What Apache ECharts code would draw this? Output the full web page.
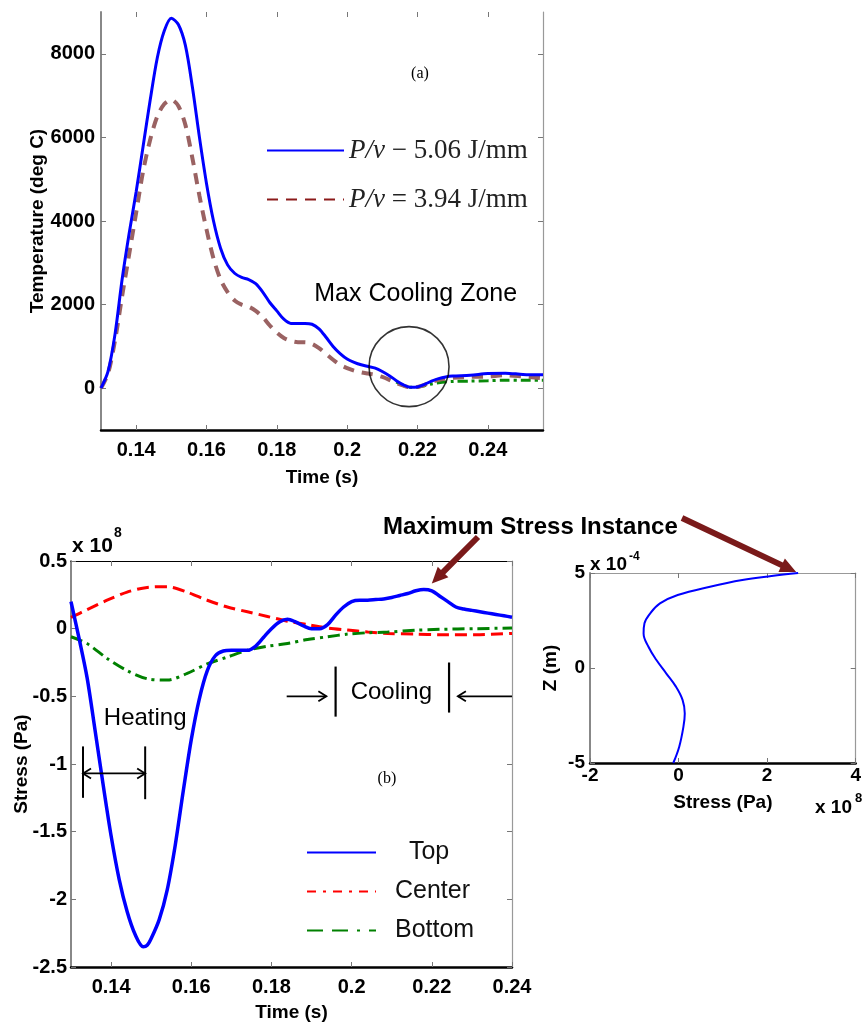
<!DOCTYPE html>
<html><head><meta charset="utf-8">
<script src="https://cdn.jsdelivr.net/npm/echarts@6/dist/echarts.min.js"></script>
<style>html,body{margin:0;padding:0;background:#fff;}#c{width:864px;height:1036px;}</style>
</head><body><div id="c"></div>
<script>
// ---------- DATA ----------
const tempTime = [0.130,0.132,0.134,0.136,0.138,0.140,0.142,0.144,0.146,0.148,0.150,0.152,0.154,0.156,0.158,0.160,0.162,0.164,0.166,0.168,0.170,0.172,0.174,0.176,0.178,0.180,0.182,0.184,0.186,0.188,0.190,0.192,0.194,0.196,0.198,0.200,0.202,0.204,0.206,0.208,0.210,0.212,0.214,0.216,0.218,0.220,0.222,0.224,0.226,0.228,0.230,0.235,0.240,0.245,0.250,0.2557];
const tempHigh = [0,400,1300,2600,3700,4700,5800,6900,7900,8550,8850,8700,8200,7200,6000,4900,4000,3350,2950,2750,2650,2600,2500,2300,2050,1850,1650,1550,1550,1550,1530,1420,1220,1000,830,700,620,560,520,480,400,300,180,80,20,30,90,170,230,270,290,310,350,360,330,320];
const tempLow = [0,350,1150,2200,3200,4200,5200,5950,6500,6800,6900,6750,6300,5500,4600,3800,3100,2600,2300,2100,2000,1950,1850,1700,1500,1330,1200,1130,1100,1100,1060,960,820,680,560,480,420,380,350,320,270,200,120,60,20,30,80,150,200,230,250,270,280,310,280,240];
const tempGreenTime = [0.214,0.216,0.218,0.220,0.222,0.224,0.226,0.228,0.230,0.235,0.240,0.245,0.250,0.2557];
const tempGreen = [150,60,20,25,60,100,130,150,160,170,180,190,190,190];
const coolZone = [0.2176, 515];

const stressTime = [0.130,0.132,0.134,0.136,0.138,0.140,0.142,0.144,0.146,0.148,0.149,0.150,0.152,0.154,0.156,0.158,0.160,0.162,0.164,0.166,0.168,0.170,0.172,0.174,0.176,0.178,0.180,0.182,0.184,0.186,0.188,0.190,0.192,0.194,0.196,0.198,0.200,0.202,0.204,0.206,0.208,0.210,0.212,0.214,0.216,0.218,0.220,0.222,0.224,0.226,0.228,0.230,0.232,0.234,0.236,0.238,0.240];
const stressTop = [0.20,-0.07,-0.36,-0.75,-1.15,-1.53,-1.85,-2.09,-2.26,-2.35,-2.34,-2.29,-2.15,-1.93,-1.60,-1.20,-0.82,-0.52,-0.31,-0.20,-0.165,-0.16,-0.16,-0.16,-0.13,-0.065,0.0,0.05,0.07,0.05,0.02,0.0,0.0,0.03,0.10,0.16,0.20,0.21,0.21,0.215,0.22,0.23,0.245,0.26,0.28,0.29,0.28,0.24,0.20,0.16,0.145,0.135,0.125,0.115,0.105,0.095,0.085];
const layerTime = [0.130,0.134,0.139,0.144,0.149,0.154,0.159,0.164,0.169,0.174,0.179,0.184,0.189,0.194,0.199,0.204,0.209,0.216,0.222,0.231,0.240];
const stressCenter = [0.083,0.14,0.21,0.27,0.305,0.31,0.27,0.21,0.16,0.125,0.09,0.055,0.03,0.005,-0.01,-0.025,-0.035,-0.04,-0.045,-0.045,-0.035];
const stressBottom = [-0.06,-0.11,-0.22,-0.31,-0.37,-0.38,-0.33,-0.26,-0.21,-0.16,-0.13,-0.11,-0.08,-0.06,-0.04,-0.03,-0.025,-0.012,-0.005,0.0,0.005];

const profileStress = [-0.12,0.015,0.11,0.14,0.09,-0.06,-0.28,-0.50,-0.68,-0.79,-0.77,-0.64,-0.42,-0.02,0.71,1.44,2.10,2.70];
const profileZ = [-5,-4.14,-3.09,-2.39,-1.68,-0.98,-0.28,0.42,1.12,1.82,2.35,2.88,3.40,3.84,4.28,4.63,4.84,5.0];

const timeTicks = [0.14,0.16,0.18,0.20,0.22,0.24];
const tempTicks = [0,2000,4000,6000,8000];
const stressTicks = [0.5,0,-0.5,-1,-1.5,-2,-2.5];
const profXTicks = [-2,0,2,4];
const profYTicks = [-5,0,5];

const legendA = ['P/v − 5.06 J/mm','P/v = 3.94 J/mm'];
const legendB = ['Top','Center','Bottom'];

// ---------- STYLE ----------
const SANS = 'Liberation Sans, Arial, sans-serif';
const SERIF = 'Liberation Serif, Times New Roman, serif';
const fmt = v => String(+(+v).toFixed(3));
const zip = (a,b) => a.map((v,i)=>[v,b[i]]);
const lblStyle = (size) => ({fontFamily:SANS,fontWeight:'bold',fontSize:size,color:'#000'});

function axesPair(kind, gridIndex, min, max, ticks, opts) {
  const main = {
    type:'value', gridIndex, min, max, position: kind==='x'?'bottom':'left',
    name: opts.name, nameLocation:'middle', nameGap: opts.nameGap, nameMoveOverlap:false,
    nameTextStyle: lblStyle(opts.nameSize||19),
    axisLine:{show:true, onZero:false, lineStyle:{color: opts.lineColor, width: opts.lineWidth}},
    axisTick:{show:true, inside:true, length:5, customValues:ticks, lineStyle:{color:'#777',width:1}},
    axisLabel:{show:true, customValues:ticks, formatter:fmt, margin: opts.margin, ...lblStyle(opts.labelSize||20)},
    splitLine:{show:false}
  };
  const mirror = {
    type:'value', gridIndex, min, max, position: kind==='x'?'top':'right',
    axisLine:{show: opts.mirrorLine!==false, onZero:false, lineStyle:{color: opts.mirrorColor||'#999', width: opts.mirrorWidth||1.2}},
    axisTick:{show:true, inside:true, length:5, customValues:ticks, lineStyle:{color:'#777',width:1}},
    axisLabel:{show:false}, splitLine:{show:false}
  };
  return [main, mirror];
}

const chart = echarts.init(document.getElementById('c'), null, {renderer:'canvas'});

const xAxes = [
  ...axesPair('x',0,0.13,0.2557,timeTicks,{name:'Time (s)',nameGap:38,lineColor:'#000',lineWidth:2.5,margin:10,mirrorLine:false}),
  ...axesPair('x',1,0.13,0.24,timeTicks,{name:'Time (s)',nameGap:36,lineColor:'#000',lineWidth:2.5,margin:10,mirrorColor:'#000',mirrorWidth:1.2}),
  ...axesPair('x',2,-2,4,profXTicks,{name:'Stress (Pa)',nameGap:30,lineColor:'#000',lineWidth:2.5,margin:3,labelSize:19})
];
const yAxes = [
  ...axesPair('y',0,-1000,9000,tempTicks,{name:'Temperature (deg C)',nameGap:54,lineColor:'#888',lineWidth:2,margin:6}),
  ...axesPair('y',1,-2.5,0.5,stressTicks,{name:'Stress (Pa)',nameGap:40,lineColor:'#888',lineWidth:2,margin:4}),
  ...axesPair('y',2,-5,5,profYTicks,{name:'Z (m)',nameGap:30,lineColor:'#888',lineWidth:2,margin:5,labelSize:19})
];

const option = {
  animation:false,
  backgroundColor:'#fff',
  grid:[
    {left:101, top:12, width:442, height:418},
    {left:71, top:561, width:441, height:406},
    {left:590, top:573, width:273, height:190}
  ],
  xAxis: xAxes,
  yAxis: yAxes,
  legend:[
    {left:261, top:132, orient:'vertical', itemWidth:77, itemHeight:14, itemGap:22,
     itemStyle:{opacity:0},
     textStyle:{fontFamily:SERIF, fontSize:27, color:'#222', rich:{i:{fontFamily:SERIF,fontSize:27,fontStyle:'italic',color:'#222'}}},
     formatter: n => n.replace('P/v','{i|P/v}'),
     data:[{name:legendA[0]},{name:legendA[1], lineStyle:{color:'#8b1a1a'}}]},
    {left:301, top:835, orient:'vertical', itemWidth:69, itemHeight:14, itemGap:14,
     itemStyle:{opacity:0},
     textStyle:{fontFamily:SANS, fontSize:25, color:'#111', padding:[0,0,0,14]},
     formatter: n => n==='Top' ? '  '+n : n,
     data:[{name:'Top'},{name:'Center', lineStyle:{type:[9,7,3,7]}},{name:'Bottom', lineStyle:{type:[16,9,16,9,3,9]}}]}
  ],
  series:[
    {name:legendA[0], type:'line', xAxisIndex:0, yAxisIndex:0, symbol:'none', smooth:0.3, data:zip(tempTime,tempHigh), lineStyle:{color:'#0000ff',width:3}, itemStyle:{color:'#0000ff'}, z:4},
    {name:legendA[1], type:'line', xAxisIndex:0, yAxisIndex:0, symbol:'none', smooth:0.3, data:zip(tempTime,tempLow), lineStyle:{color:'#9a6262',width:4,type:[11,8]}, itemStyle:{color:'#9a6262'}, z:3},
    {name:'green', type:'line', xAxisIndex:0, yAxisIndex:0, symbol:'none', smooth:0.3, data:zip(tempGreenTime,tempGreen), lineStyle:{color:'#0a8a0a',width:3,type:[10,4,3,4]}, z:2},
    {name:'zone', type:'scatter', xAxisIndex:0, yAxisIndex:0, data:[coolZone], symbol:'circle', symbolSize:80, itemStyle:{color:'rgba(0,0,0,0)', borderColor:'#000', borderWidth:1.6}, z:5, silent:true},
    {name:'Top', type:'line', xAxisIndex:2, yAxisIndex:2, symbol:'none', smooth:0.3, data:zip(stressTime,stressTop), lineStyle:{color:'#0000ff',width:3.5}, itemStyle:{color:'#0000ff'}, z:4},
    {name:'Center', type:'line', xAxisIndex:2, yAxisIndex:2, symbol:'none', smooth:0.3, data:zip(layerTime,stressCenter), lineStyle:{color:'#ff0000',width:3,type:[12,6]}, itemStyle:{color:'#ff0000'}, z:3},
    {name:'Bottom', type:'line', xAxisIndex:2, yAxisIndex:2, symbol:'none', smooth:0.3, data:zip(layerTime,stressBottom), lineStyle:{color:'#008000',width:3,type:[12,5,3,5]}, itemStyle:{color:'#008000'}, z:3},
    {name:'profile', type:'line', xAxisIndex:4, yAxisIndex:4, symbol:'none', smooth:0.4, data:zip(profileStress,profileZ), lineStyle:{color:'#0000ff',width:2}, z:3}
  ]
};
chart.setOption(option);

// ---------- ANNOTATIONS ----------
const P = (g, x, y) => chart.convertToPixel({xAxisIndex:g*2, yAxisIndex:g*2}, [x, y]);

function fatArrow(x1,y1,x2,y2,w,hl,hw,color){
  const dx=x2-x1, dy=y2-y1, L=Math.hypot(dx,dy), ux=dx/L, uy=dy/L, nx=-uy, ny=ux;
  const bx=x2-ux*hl, by=y2-uy*hl;
  const pts=[[x1+nx*w/2,y1+ny*w/2],[bx+nx*w/2,by+ny*w/2],[bx+nx*hw/2,by+ny*hw/2],[x2,y2],[bx-nx*hw/2,by-ny*hw/2],[bx-nx*w/2,by-ny*w/2],[x1-nx*w/2,y1-ny*w/2]];
  return {type:'polygon', shape:{points:pts}, style:{fill:color}, z:100};
}
function thinArrowHead(x,y,dir,color){
  return {type:'polyline', shape:{points:[[x-dir*8,y-5],[x,y],[x-dir*8,y+5]]}, style:{stroke:color,lineWidth:1.8,fill:null}, z:100};
}
const line = (a,b,w,c) => ({type:'line', shape:{x1:a[0],y1:a[1],x2:b[0],y2:b[1]}, style:{stroke:c||'#000',lineWidth:w||2}, z:100});
const text = (x,y,t,font,align,extra) => ({type:'text', x, y, style:Object.assign({text:t, font, fill:'#000', textAlign:align||'center', textVerticalAlign:'middle'}, extra||{}), z:100});

let pk = 0; stressTime.forEach((t,i)=>{ if(t>0.2 && stressTop[i]>stressTop[pk]) pk=i; });
const peakPx = P(1, stressTime[pk], stressTop[pk]);
const profTop = P(2, profileStress[profileStress.length-1], profileZ[profileZ.length-1]);

const hL1 = P(1,0.1330,-0.87), hL2 = P(1,0.1330,-1.25);
const hR1 = P(1,0.1485,-0.87), hR2 = P(1,0.1485,-1.26);
const hA = P(1,0.1330,-1.07), hB = P(1,0.1485,-1.07);
const cL1 = P(1,0.196,-0.28), cL2 = P(1,0.196,-0.65);
const cR1 = P(1,0.2243,-0.25), cR2 = P(1,0.2243,-0.62);
const cArL0 = P(1,0.1838,-0.50), cArL1 = P(1,0.1937,-0.50);
const cArR0 = P(1,0.2400,-0.50), cArR1 = P(1,0.2265,-0.50);
const heatTxt = P(1,0.1485,-0.66), coolTxt = P(1,0.2099,-0.47), bTxt = P(1,0.2088,-1.11);
const zoneTxt = P(0,0.2195,2240);

const g = [
  text(420,74,'(a)','16px '+SERIF),
  text(zoneTxt[0],zoneTxt[1],'Max Cooling Zone','25px '+SANS),
  text(383,527,'Maximum Stress Instance','bold 24px '+SANS,'left'),
  fatArrow(478,537,peakPx[0]+8,peakPx[1]-6,6,16,15,'#7a1a1a'),
  fatArrow(682,518,profTop[0]-2,profTop[1]-1,6,16,15,'#7a1a1a'),
  text(72,546,'x 10','bold 21px '+SANS,'left'),
  text(114,533,'8','bold 14px '+SANS,'left'),
  text(590,565,'x 10','bold 19px '+SANS,'left'),
  text(629,557,'-4','bold 12px '+SANS,'left'),
  text(815,808,'x 10','bold 19px '+SANS,'left'),
  text(855,798,'8','bold 13px '+SANS,'left'),
  text(heatTxt[0],heatTxt[1],'Heating','24px '+SANS),
  line(hL1,hL2,2), line(hR1,hR2,2), line(hA,hB,1.8),
  thinArrowHead(hA[0],hA[1],-1,'#000'), thinArrowHead(hB[0],hB[1],1,'#000'),
  text(coolTxt[0],coolTxt[1],'Cooling','24px '+SANS),
  line(cL1,cL2,2.2), line(cR1,cR2,2.2),
  line(cArL0,cArL1,1.8), thinArrowHead(cArL1[0],cArL1[1],1,'#000'),
  line(cArR0,cArR1,1.8), thinArrowHead(cArR1[0],cArR1[1],-1,'#000'),
  text(bTxt[0],bTxt[1],'(b)','16px '+SERIF)
];
chart.setOption({graphic:g});
</script></body></html>
